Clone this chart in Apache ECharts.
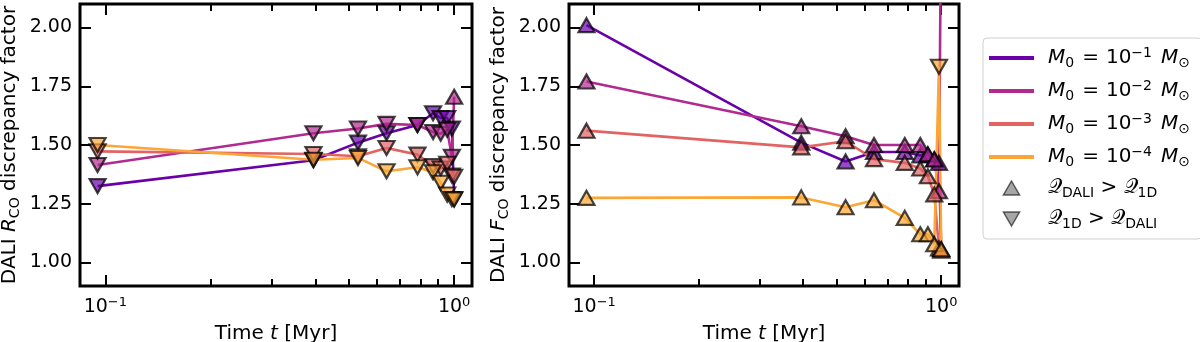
<!DOCTYPE html>
<html>
<head>
<meta charset="UTF-8">
<title>DALI discrepancy factor</title>
<script src="https://cdn.jsdelivr.net/npm/echarts@6/dist/echarts.min.js"></script>
<style>html,body{margin:0;padding:0;background:#fff}</style>
</head>
<body>
<div id="main" style="width:1200px;height:342px"></div>
<script>
// time grid [Myr]
const times = [0.095, 0.395, 0.53, 0.64, 0.785, 0.87, 0.915, 0.955, 0.985, 1.0];

// left panel: DALI R_CO discrepancy factor
const rcoM1 = [1.325, 1.435, 1.51, 1.55, 1.585, 1.635, 1.615, 1.615, 1.57, 1.27];
const rcoM2 = [1.415, 1.55, 1.57, 1.59, 1.585, 1.555, 1.548, 1.565, 1.45, 1.705];
const rcoM3 = [1.473, 1.462, 1.452, 1.487, 1.459, 1.41, 1.40, 1.42, 1.37, 1.365];
const rcoM4 = [1.50, 1.437, 1.445, 1.388, 1.405, 1.384, 1.339, 1.289, 1.27, 1.268];
// u: Q_DALI > Q_1D, d: Q_1D > Q_DALI
const rcoDir = ['dddddddddd', 'dddddddddu', 'dddddddddd', 'dddddddddd'];

// right panel: DALI F_CO discrepancy factor
const fcoM1 = [2.01, 1.51, 1.43, 1.47, 1.47, 1.455, 1.459, 1.44, 1.424, 1.056];
const fcoM2 = [1.77, 1.58, 1.537, 1.50, 1.50, 1.50, 1.46, 1.438, 1.303, 2.6];
const fcoM3 = [1.561, 1.49, 1.516, 1.44, 1.424, 1.40, 1.367, 1.29, 1.06, 1.05];
const fcoM4 = [1.275, 1.277, 1.235, 1.265, 1.19, 1.12, 1.12, 1.078, 1.833, 1.056];
const fcoDir = ['uuuuuuuuuu', 'uuuuuuuuuu', 'uuuuuuuuuu', 'uuuuuuuudu'];

const massExp = ['−1', '−2', '−3', '−4'];
const yTicks = [1.0, 1.25, 1.5, 1.75, 2.0];
const xMinor = [0.2, 0.3, 0.4, 0.5, 0.6, 0.7, 0.8, 0.9];

const colors = ['#6a00a8', '#b12a90', '#e16462', '#fca636'];
const fadeColors = ['rgba(106,0,168,0.7)', 'rgba(177,42,144,0.7)', 'rgba(225,100,98,0.7)', 'rgba(252,166,54,0.7)'];
const FONT = 'DejaVu Sans';
const xMin = 0.0846, xMax = 1.125;
const yMin = 0.9, yMax = 2.1;

const richText = {
    n: { fontSize: 20, lineHeight: 24, fontFamily: FONT, color: '#000' },
    i: { fontSize: 20, lineHeight: 24, fontStyle: 'italic', fontFamily: FONT, color: '#000' },
    m: { fontSize: 20, lineHeight: 24, fontStyle: 'italic', fontFamily: FONT, color: '#000', padding: [0, 0, 0, 9] },
    e: { fontSize: 20, lineHeight: 24, fontFamily: FONT, color: '#000', padding: [0, 7, 0, 8] },
    s: { fontSize: 14, lineHeight: 14, verticalAlign: 'bottom', fontFamily: FONT, color: '#000' },
    p: { fontSize: 14, lineHeight: 14, verticalAlign: 'top', fontFamily: FONT, color: '#000' },
    q: { fontSize: 20, lineHeight: 24, fontFamily: FONT, color: '#000' }
};
const tickRich = {
    n: { fontSize: 19, lineHeight: 22, fontFamily: FONT, color: '#000' },
    p: { fontSize: 13, lineHeight: 13, verticalAlign: 'top', fontFamily: FONT, color: '#000' }
};

function tickStyle(len) {
    return { show: true, inside: true, length: len, lineStyle: { color: '#000', width: 2 } };
}
const noLine = { show: false, onZero: false };

const grids = [
    { left: 80, top: 4, width: 392, height: 282 },
    { left: 569, top: 4, width: 390, height: 282 }
].map(g => Object.assign(g, {
    show: true, borderColor: '#000', borderWidth: 3,
    containLabel: false, outerBoundsMode: 'none'
}));

const xAxes = [];
const yAxes = [];
const yNames = ['{n|DALI }{i|R}{s|CO}{n| discrepancy factor}', '{n|DALI }{i|F}{s|CO}{n| discrepancy factor}'];
[0, 1].forEach(p => {
    xAxes.push({
        type: 'log', gridIndex: p, position: 'bottom', min: xMin, max: xMax,
        axisLine: noLine, splitLine: { show: false },
        axisTick: tickStyle(11),
        axisLabel: {
            margin: 10, rich: tickRich,
            formatter: v => {
                const e = Math.log10(v);
                if (Math.abs(e - Math.round(e)) > 1e-6) return '';
                const r = Math.round(e);
                return '{n|10}{p|' + (r < 0 ? '−' + (-r) : r) + '}';
            }
        },
        name: '{n|Time }{i|t}{n| [Myr]}', nameLocation: 'middle', nameGap: 36,
        nameTextStyle: { rich: richText }
    });
    xAxes.push({
        type: 'log', gridIndex: p, position: 'top', min: xMin, max: xMax,
        axisLine: noLine, splitLine: { show: false },
        axisTick: tickStyle(11), axisLabel: { show: false }
    });
    ['bottom', 'top'].forEach(pos => {
        xAxes.push({
            type: 'value', gridIndex: p, position: pos,
            min: Math.log10(xMin), max: Math.log10(xMax),
            axisLine: noLine, splitLine: { show: false },
            axisTick: Object.assign(tickStyle(7), { customValues: xMinor.map(Math.log10) }),
            axisLabel: { show: false }
        });
    });
    yAxes.push({
        type: 'value', gridIndex: p, position: 'left', min: yMin, max: yMax,
        axisLine: noLine, splitLine: { show: false },
        axisTick: Object.assign(tickStyle(11), { customValues: yTicks }),
        axisLabel: {
            customValues: yTicks, margin: 8, fontSize: 19, fontFamily: FONT, color: '#000',
            formatter: v => v.toFixed(2)
        },
        name: yNames[p], nameLocation: 'middle', nameGap: 58, nameRotate: 90,
        nameTextStyle: { rich: richText }
    });
    yAxes.push({
        type: 'value', gridIndex: p, position: 'right', min: yMin, max: yMax,
        axisLine: noLine, splitLine: { show: false },
        axisTick: Object.assign(tickStyle(11), { customValues: yTicks }),
        axisLabel: { show: false }
    });
});

const panels = [
    { vals: [rcoM1, rcoM2, rcoM3, rcoM4], dir: rcoDir },
    { vals: [fcoM1, fcoM2, fcoM3, fcoM4], dir: fcoDir }
];
const series = [];
panels.forEach((panel, p) => {
    panel.vals.forEach((vals, m) => {
        series.push({
            name: 'M' + m, type: 'line', xAxisIndex: p * 4, yAxisIndex: p * 2,
            clip: true, showSymbol: true, symbolSize: [16, 14],
            lineStyle: { color: colors[m], width: 2.6 },
            itemStyle: { color: fadeColors[m], borderColor: 'rgba(0,0,0,0.72)', borderWidth: 2.2 },
            data: times.map((t, i) => ({
                value: [t, vals[i]],
                symbol: 'triangle',
                symbolRotate: panel.dir[m][i] === 'u' ? 0 : 180
            }))
        });
    });
});
series.push({ name: 'QU', type: 'scatter', xAxisIndex: 0, yAxisIndex: 0, data: [] });
series.push({ name: 'QD', type: 'scatter', xAxisIndex: 0, yAxisIndex: 0, data: [] });

const legendLabels = {
    QU: '{q|𝒬}{s|DALI}{n| > }{q|𝒬}{s|1D}',
    QD: '{q|𝒬}{s|1D}{n| > }{q|𝒬}{s|DALI}'
};
massExp.forEach((e, m) => {
    legendLabels['M' + m] = '{i|M}{s|0}{e|=}{n|10}{p|' + e + '}{m|M}{s|⊙}';
});

const grayMarker = { color: 'rgba(128,128,128,0.7)', borderColor: 'rgba(0,0,0,0.6)', borderWidth: 1.5, opacity: 1 };
const legendData = colors.map((c, m) => ({
    name: 'M' + m, icon: 'path://M0,0H45V4H0Z',
    itemStyle: { color: c, borderWidth: 0, opacity: 1 }
}));
legendData.push({ name: 'QU', icon: 'path://M6,0L12,10.4L0,10.4Z', itemStyle: grayMarker });
legendData.push({ name: 'QD', icon: 'path://M0,0L12,0L6,10.4Z', itemStyle: grayMarker });

const chart = echarts.init(document.getElementById('main'));
chart.setOption({
    animation: false,
    textStyle: { fontFamily: FONT },
    grid: grids,
    xAxis: xAxes,
    yAxis: yAxes,
    legend: {
        orient: 'vertical', left: 983, top: 38,
        itemWidth: 45, itemHeight: 14, itemGap: 9,
        padding: [8, 12, 8, 6],
        borderColor: '#d0d0d0', borderWidth: 1, borderRadius: 4, backgroundColor: '#fff',
        symbolKeepAspect: true, selectedMode: false,
        textStyle: { fontSize: 20, fontFamily: FONT, color: '#000', padding: [0, 0, 0, 9], rich: richText },
        formatter: name => legendLabels[name],
        data: legendData
    },
    series: series
});
</script>
</body>
</html>
